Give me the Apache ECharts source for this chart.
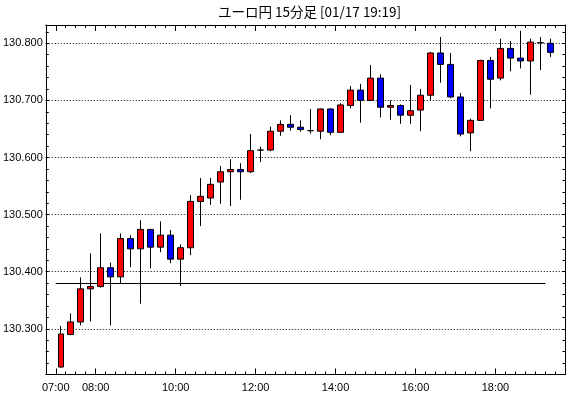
<!DOCTYPE html>
<html>
<head>
<meta charset="utf-8">
<script src="https://cdn.jsdelivr.net/npm/echarts@6/dist/echarts.min.js"></script>
<style>
  html, body { margin: 0; background: #fff; }
  #chart { width: 570px; height: 398px; }
</style>
</head>
<body>
<div id="chart"></div>
<script>
// 15 minute bars, 07:00 - 19:15
const times = [
  "07:00", "07:15", "07:30", "07:45", "08:00", "08:15", "08:30", "08:45",
  "09:00", "09:15", "09:30", "09:45", "10:00", "10:15", "10:30", "10:45",
  "11:00", "11:15", "11:30", "11:45", "12:00", "12:15", "12:30", "12:45",
  "13:00", "13:15", "13:30", "13:45", "14:00", "14:15", "14:30", "14:45",
  "15:00", "15:15", "15:30", "15:45", "16:00", "16:15", "16:30", "16:45",
  "17:00", "17:15", "17:30", "17:45", "18:00", "18:15", "18:30", "18:45",
  "19:00", "19:15"
]
const opens = [
  130.233, 130.290, 130.312, 130.370, 130.374, 130.407, 130.391, 130.458, 130.440, 130.474,
  130.443, 130.464, 130.422, 130.442, 130.523, 130.529, 130.557, 130.575, 130.579, 130.575,
  130.613, 130.613, 130.646, 130.658, 130.653, 130.647, 130.646, 130.685, 130.644, 130.691,
  130.718, 130.700, 130.739, 130.688, 130.691, 130.674, 130.683, 130.709, 130.783, 130.763,
  130.706, 130.643, 130.665, 130.770, 130.739, 130.791, 130.774, 130.769, 130.801, 130.800
]
const closes = [
  130.291, 130.312, 130.370, 130.374, 130.407, 130.391, 130.458, 130.440, 130.474, 130.443,
  130.464, 130.422, 130.442, 130.523, 130.532, 130.553, 130.575, 130.579, 130.575, 130.612,
  130.613, 130.646, 130.658, 130.653, 130.649, 130.647, 130.685, 130.644, 130.692, 130.718,
  130.700, 130.739, 130.688, 130.691, 130.674, 130.682, 130.709, 130.783, 130.763, 130.706,
  130.641, 130.665, 130.770, 130.737, 130.791, 130.774, 130.769, 130.802, 130.801, 130.784
]
const lows = [
  130.232, 130.289, 130.306, 130.313, 130.372, 130.306, 130.380, 130.408, 130.344, 130.406,
  130.434, 130.415, 130.375, 130.429, 130.480, 130.517, 130.519, 130.515, 130.526, 130.573,
  130.592, 130.611, 130.638, 130.647, 130.645, 130.642, 130.632, 130.639, 130.644, 130.686,
  130.661, 130.699, 130.670, 130.666, 130.659, 130.659, 130.646, 130.700, 130.731, 130.704,
  130.637, 130.611, 130.665, 130.686, 130.735, 130.751, 130.756, 130.710, 130.753, 130.776
]
const highs = [
  130.305, 130.327, 130.390, 130.432, 130.467, 130.416, 130.467, 130.464, 130.490, 130.475,
  130.488, 130.473, 130.448, 130.534, 130.564, 130.564, 130.585, 130.597, 130.590, 130.641,
  130.619, 130.654, 130.665, 130.674, 130.665, 130.685, 130.686, 130.686, 130.695, 130.725,
  130.729, 130.762, 130.746, 130.700, 130.693, 130.727, 130.720, 130.785, 130.811, 130.783,
  130.713, 130.668, 130.771, 130.776, 130.808, 130.804, 130.822, 130.808, 130.811, 130.808
]
const xLabels = ["07:00", "08:00", "10:00", "12:00", "14:00", "16:00", "18:00"]
const yLabels = [130.3, 130.4, 130.5, 130.6, 130.7, 130.8]
const baseLevel = 130.379
const baseFrom = "07:00"
const baseTo = "19:15"

const font = "Liberation Sans"
const majorX = xLabels.map((t) => times.indexOf(t))

// candle i sits in the slot [i, i + 1]
const candles = times.map((t, i) => [i + 0.5, opens[i], closes[i], lows[i], highs[i]])

const xBase = { type: "value", min: -1, max: 51, splitLine: { show: false } }
const frame = { show: true, onZero: false, lineStyle: { color: "#000", width: 1 } }

const chart = echarts.init(document.getElementById("chart"))
chart.setOption({
  animation: false,
  backgroundColor: "#fff",
  title: {
    text: "ユーロ円 15分足 [01/17 19:19]",
    left: 218,
    top: 5,
    padding: 0,
    textStyle: { fontFamily: "Noto Sans CJK JP", fontSize: 13.5, fontWeight: "normal", color: "#000" },
  },
  grid: { left: 45.4, right: 4.6, top: 25, bottom: 23.5 },
  xAxis: [
    {
      ...xBase,
      position: "bottom",
      interval: 1,
      axisLine: frame,
      axisTick: { inside: true, length: 3, lineStyle: { color: "#000" } },
      axisLabel: { show: false },
    },
    {
      ...xBase,
      position: "bottom",
      axisLine: { show: false },
      axisTick: { inside: true, length: 6, customValues: majorX, lineStyle: { color: "#000" } },
      axisLabel: {
        customValues: majorX,
        formatter: (v) => times[Math.round(v)],
        margin: 8,
        color: "#000",
        fontFamily: font,
        fontSize: 11,
      },
    },
    {
      ...xBase,
      position: "top",
      interval: 1,
      axisLine: frame,
      axisTick: { inside: true, length: 3, lineStyle: { color: "#000" } },
      axisLabel: { show: false },
    },
    {
      ...xBase,
      position: "top",
      axisLine: { show: false },
      axisTick: { inside: true, length: 6, customValues: majorX, lineStyle: { color: "#000" } },
      axisLabel: { show: false },
    },
  ],
  yAxis: [
    {
      type: "value",
      position: "left",
      min: 130.22,
      max: 130.832,
      interval: 0.02,
      axisLine: frame,
      axisTick: { inside: true, length: 3, lineStyle: { color: "#000" } },
      axisLabel: {
        customValues: yLabels,
        formatter: (v) => v.toFixed(3),
        margin: 3,
        color: "#000",
        fontFamily: font,
        fontSize: 11,
      },
      splitLine: { show: false },
    },
    {
      type: "value",
      position: "right",
      min: 130.22,
      max: 130.832,
      interval: 0.02,
      axisLine: frame,
      axisTick: { inside: true, length: 3, lineStyle: { color: "#000" } },
      axisLabel: { show: false },
      splitLine: { show: false },
    },
  ],
  series: [
    {
      type: "candlestick",
      xAxisIndex: 0,
      yAxisIndex: 0,
      data: candles,
      encode: { x: 0, y: [1, 2, 3, 4] },
      barWidth: 6,
      itemStyle: {
        color: "#ff0000",
        color0: "#0000ff",
        borderColor: "#000",
        borderColor0: "#000",
        borderColorDoji: "#000",
        borderWidth: 1,
      },
      markLine: {
        silent: true,
        z: 1,
        symbol: ["none", "none"],
        label: { show: false },
        data: [
          ...yLabels.map((v) => ({
            yAxis: v,
            lineStyle: { color: "#000", width: 1, type: [1, 2] },
          })),
          [
            {
              coord: [times.indexOf(baseFrom), baseLevel],
              lineStyle: { color: "#000", width: 1, type: "solid" },
            },
            { coord: [times.indexOf(baseTo), baseLevel] },
          ],
        ],
      },
    },
  ],
})
</script>
</body>
</html>
